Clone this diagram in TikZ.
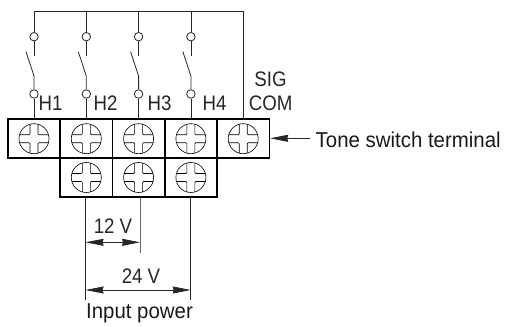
\documentclass[tikz,border=0pt]{standalone}
\usepackage{fontspec}
\setmainfont{Liberation Sans}
\usetikzlibrary{arrows.meta}
\begin{document}
\begin{tikzpicture}[x=1pt,y=-1pt,
  wire/.style={line width=0.8pt,draw=black!85},
  contact/.style={circle,draw=black!85,line width=0.8pt,fill=white,minimum size=8.5pt,inner sep=0pt},
  dim/.style={line width=0.7pt,draw=black!85,{Stealth[length=18pt,width=7pt,inset=1pt]}-{Stealth[length=18pt,width=7pt,inset=1pt]}},
  lbl/.style={inner sep=0pt,font=\fontsize{21}{23}\selectfont,text=black!85,xscale=0.89},
  big/.style={inner sep=0pt,font=\fontsize{21.5}{23}\selectfont,text=black!90,xscale=0.95},
  terminal/.style={rectangle,draw=black,line width=1.7pt,minimum width=52.3pt,minimum height=39pt,inner sep=0pt,
    path picture={
      \begin{scope}[shift={(path picture bounding box.center)},yshift=0.4pt,line width=0.6pt,black]
        \draw (0,0) circle (15);
        \foreach \a/\b in {1/1,1/-1,-1/1,-1/-1}{
          \draw[rounded corners=1pt] (\a*4,\b*14.4) -- (\a*4,\b*4) -- (\a*14.4,\b*4);}
      \end{scope}}}]
\useasboundingbox (0,0) rectangle (505,326);
\foreach \n/\x in {1/34,2/86.3,3/138.6,4/190.9,5/243.2}
  \node[terminal] (t\n) at (\x,138.7) {};
\foreach \n/\x in {6/86.3,7/138.6,8/190.9}
  \node[terminal] (t\n) at (\x,177.5) {};
\coordinate (top1) at (34,11.7);
\coordinate (top5) at (243.2,11.7);
\draw[wire] (top1) -- (top5) -- (t5.north);
\foreach \n/\x in {1/34,2/86.3,3/138.6,4/190.9}{
  \coordinate (top\n) at (\x,11.7);
  \node[contact] (a\n) at (\x,36.7) {};
  \node[contact] (b\n) at (\x,94) {};
  \coordinate (c\n) at (\x,56);
  \coordinate (d\n) at (\x,76);
  \coordinate (e\n) at (\x-8,51.7);
  \draw[wire] (top\n) -- (a\n);
  \draw[wire] (a\n) -- (c\n);
  \draw[wire] (e\n) -- (d\n) -- (b\n);
  \draw[wire] (b\n) -- (t\n.north);
}
\node[lbl,anchor=base west] (h1) at (38.5,110.5) {H1};
\node[lbl,anchor=base west] (h2) at (93.5,110.5) {H2};
\node[lbl,anchor=base west] (h3) at (147.5,110.5) {H3};
\node[lbl,anchor=base west] (h4) at (202.5,110.5) {H4};
\node[lbl,anchor=base] (sig) at (270.5,87) {SIG};
\node[lbl,anchor=base] (com) at (270.7,110.5) {COM};
\node[big,anchor=base west] (tone) at (315.5,147.5) {Tone switch terminal};
\coordinate (tt) at (310,138.3);
\draw[wire,-{Stealth[length=18pt,width=7pt,inset=1pt]}] (tt) -- (t5.east |- tt);
\coordinate (u1) at (85.6,300);
\coordinate (u2) at (140,253);
\coordinate (u3) at (190.7,300);
\draw[wire] (u1 |- t6.south) -- (u1);
\draw[wire,black!60] (u2 |- t7.south) -- (u2);
\draw[wire] (u3 |- t8.south) -- (u3);
\coordinate (k1) at (85.6,242.3);
\coordinate (k2) at (140,242.3);
\coordinate (k3) at (85.6,290);
\coordinate (k4) at (190.7,290);
\draw[dim] (k1) -- (k2);
\draw[dim] (k3) -- (k4);
\node[lbl,anchor=base] (v12) at (113,233) {12 V};
\node[lbl,anchor=base] (v24) at (141,283) {24 V};
\node[big,anchor=base] (ip) at (139.5,318) {Input power};
\end{tikzpicture}
\end{document}
